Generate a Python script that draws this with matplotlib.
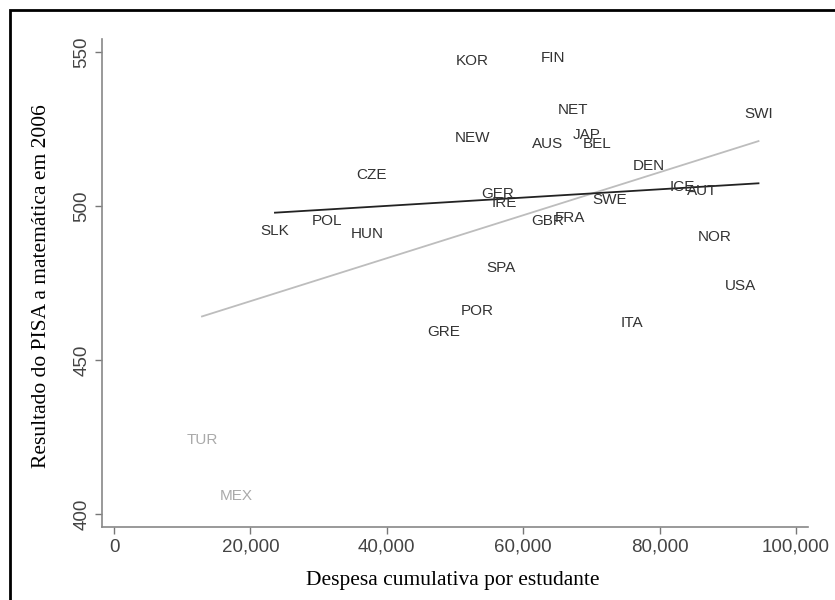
import matplotlib
matplotlib.use("Agg")
import matplotlib.pyplot as plt
import numpy as np

# PISA 2006 maths score vs cumulative spending per student
countries = ["KOR", "FIN", "NET", "SWI", "NEW", "AUS", "JAP", "BEL", "DEN",
             "CZE", "GER", "IRE", "SWE", "ICE", "AUT", "GBR", "FRA", "NOR",
             "SLK", "POL", "HUN", "SPA", "USA", "POR", "GRE", "ITA",
             "TUR", "MEX"]
spend = [52600, 64400, 67300, 94500, 52500, 63600, 69300, 70800, 78400,
         37800, 56300, 57200, 72700, 83400, 86200, 63600, 66900, 88100,
         23600, 31200, 37200, 56700, 91800, 53200, 48400, 75900,
         12900, 17900]
score = [547, 548, 531, 530, 522, 520, 523, 520, 513,
         510, 504, 501, 502, 506, 505, 495, 496, 490,
         492, 495, 491, 480, 474, 466, 459, 462,
         424, 406]
outliers = ["TUR", "MEX"]

x = np.array(spend, dtype=float)
y = np.array(score, dtype=float)
keep = np.array([c not in outliers for c in countries])

fig = plt.figure(figsize=(8.35, 6.0), dpi=100)
ax = fig.add_axes([102 / 835, 1 - 527 / 600, 706 / 835, 488 / 600])

# linear fits: all countries (grey) and without outliers (black)
b_all = np.polyfit(x, y, 1)
xa = np.array([x.min(), x.max()])
ax.plot(xa, np.polyval(b_all, xa), color="#bdbdbd", lw=1.3, zorder=1)
b_sub = np.polyfit(x[keep], y[keep], 1)
xs = np.array([x[keep].min(), x[keep].max()])
ax.plot(xs, np.polyval(b_sub, xs), color="#222222", lw=1.3, zorder=2)

for c, xi, yi in zip(countries, spend, score):
    col = "#aaaaaa" if c in outliers else "#333333"
    ax.text(xi, yi, c, ha="center", va="center", fontsize=11,
            family="Liberation Sans", color=col, zorder=3)

ax.set_xlim(-1760, 101760)
ax.set_ylim(395.8, 554.2)
ax.set_xticks([0, 20000, 40000, 60000, 80000, 100000])
ax.set_xticklabels(["0", "20,000", "40,000", "60,000", "80,000", "100,000"])
ax.set_yticks([400, 450, 500, 550])
for lab in ax.get_yticklabels():
    lab.set_rotation(90)
    lab.set_va("center")
ax.tick_params(colors="#777777", labelcolor="#444444", labelsize=13.5,
               length=5, width=1)
for t in ax.get_xticklabels() + ax.get_yticklabels():
    t.set_family("Liberation Sans")
for s in ["top", "right"]:
    ax.spines[s].set_visible(False)
for s in ["left", "bottom"]:
    ax.spines[s].set_color("#888888")
    ax.spines[s].set_linewidth(1.2)

fig.text(453 / 835, 1 - 581 / 600, "Despesa cumulativa por estudante",
         ha="center", va="center", fontsize=15.5, family="Liberation Serif")
fig.text(42 / 835, 1 - 286 / 600, "Resultado do PISA a matemática em 2006",
         ha="center", va="center", rotation=90, fontsize=15.5,
         family="Liberation Serif")

# frame around the figure (left and top edges visible)
fig.add_artist(plt.Rectangle((10 / 835, -0.1), 1.2, 1 - 10 / 600 + 0.1,
                             transform=fig.transFigure, fill=False,
                             edgecolor="black", lw=2))

fig.savefig("out.png", dpi=100)
